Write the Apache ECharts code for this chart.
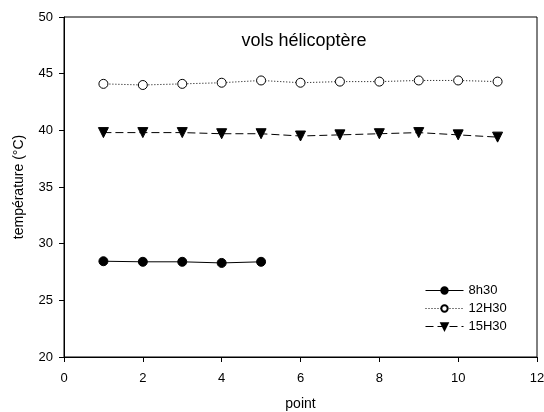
<!DOCTYPE html>
<html>
<head>
<meta charset="utf-8">
<script src="https://cdn.jsdelivr.net/npm/echarts@6/dist/echarts.min.js"></script>
<style>
  html, body { margin: 0; padding: 0; background: #fff; }
  #chart { width: 544px; height: 412px; }
</style>
</head>
<body>
<div id="chart"></div>
<script>
// values
var pts8 = [1, 2, 3, 4, 5];
var vals8 = [28.45, 28.4, 28.4, 28.3, 28.4];
var pts12 = [1, 2, 3, 4, 5, 6, 7, 8, 9, 10, 11];
var vals12 = [44.1, 44.0, 44.1, 44.2, 44.4, 44.2, 44.3, 44.3, 44.4, 44.4, 44.3];
var pts15 = [1, 2, 3, 4, 5, 6, 7, 8, 9, 10, 11];
var vals15 = [39.8, 39.8, 39.8, 39.7, 39.7, 39.5, 39.6, 39.7, 39.8, 39.6, 39.4];
var seriesNames = ['8h30', '12H30', '15H30'];

function pairs(xs, ys) {
    return xs.map(function (x, i) { return [x, ys[i]]; });
}

var font = 'Liberation Sans, Arial, sans-serif';

var option = {
    animation: false,
    title: {
        text: 'vols hélicoptère',
        left: 299, top: 27, textAlign: 'center',
        textStyle: { fontFamily: font, fontSize: 18, fontWeight: 'normal', color: '#000' }
    },
    legend: {
        orient: 'vertical',
        left: 420, top: 279,
        itemWidth: 38, itemHeight: 8, itemGap: 5,
        lineStyle: { width: 1 },
        textStyle: { fontFamily: font, fontSize: 13, color: '#000' },
        data: seriesNames
    },
    grid: {
        left: 64, right: 7, top: 17, bottom: 55,
        containLabel: false, outerBoundsMode: 'none',
        show: true, borderColor: '#000', borderWidth: 1
    },
    xAxis: {
        type: 'value', min: 0, max: 12, interval: 2,
        name: 'point', nameLocation: 'middle', nameGap: 40,
        nameTextStyle: { fontFamily: font, fontSize: 14, color: '#000' },
        axisLine: { lineStyle: { color: '#000' } },
        axisTick: { inside: false, length: 5, lineStyle: { color: '#000' } },
        axisLabel: { fontFamily: font, fontSize: 13, color: '#000', margin: 15 },
        splitLine: { show: false }
    },
    yAxis: {
        type: 'value', min: 20, max: 50, interval: 5,
        name: 'température (°C)', nameLocation: 'middle', nameGap: 38,
        nameTextStyle: { fontFamily: font, fontSize: 14, color: '#000' },
        axisLine: { show: true, lineStyle: { color: '#000' } },
        axisTick: { show: true, inside: false, length: 5, lineStyle: { color: '#000' } },
        axisLabel: { fontFamily: font, fontSize: 13, color: '#000', margin: 11 },
        splitLine: { show: false }
    },
    series: [
        {
            name: seriesNames[0], type: 'line',
            data: pairs(pts8, vals8),
            symbol: 'circle', symbolSize: 9,
            lineStyle: { color: '#000', width: 1, type: 'solid' },
            itemStyle: { color: '#000', borderColor: '#000', borderWidth: 1 }
        },
        {
            name: seriesNames[1], type: 'line',
            data: pairs(pts12, vals12),
            symbol: 'circle', symbolSize: 9,
            lineStyle: { color: '#000', width: 1, type: [1, 2] },
            itemStyle: { color: '#fff', borderColor: '#000', borderWidth: 1 }
        },
        {
            name: seriesNames[2], type: 'line',
            data: pairs(pts15, vals15),
            symbol: 'triangle', symbolSize: 10, symbolRotate: 180,
            lineStyle: { color: '#000', width: 1, type: [8, 4] },
            itemStyle: { color: '#000', borderColor: '#000', borderWidth: 1 }
        }
    ]
};

var myChart = echarts.init(document.getElementById('chart'));
myChart.setOption(option);
</script>
</body>
</html>
